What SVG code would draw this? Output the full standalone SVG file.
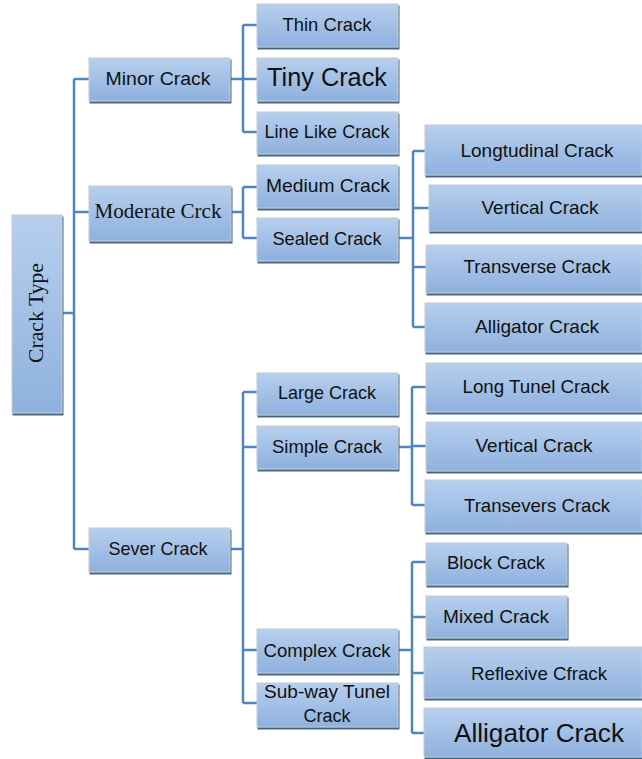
<svg xmlns="http://www.w3.org/2000/svg" width="642" height="759" viewBox="0 0 642 759">
<defs>
<linearGradient id="g" x1="0" y1="0" x2="0" y2="1">
<stop offset="0" stop-color="#b7cfed"/>
<stop offset="1" stop-color="#8eb1de"/>
</linearGradient>
<filter id="sh" x="-5%" y="-5%" width="112%" height="120%">
<feFlood flood-color="#4a6584" result="c"/>
<feComposite in="c" in2="SourceAlpha" operator="in" result="s"/>
<feOffset in="s" dx="1" dy="2" result="o"/>
<feMerge><feMergeNode in="o"/><feMergeNode in="SourceGraphic"/></feMerge>
</filter>
<style>
rect{fill:url(#g);stroke:#c3ccd6;stroke-width:1;filter:url(#sh)}
text{font-family:"Liberation Sans",Arial,sans-serif;font-size:19px;fill:#111;text-anchor:middle}
.serif{font-family:"Liberation Serif","Times New Roman",serif;font-size:21px}
.big{font-size:25px}
.huge{font-size:26px}
#connectors path{fill:none;stroke:#4f86c0;stroke-width:2.5}
</style>
</defs>
<rect x="0" y="0" width="642" height="759" style="fill:#fff;stroke:none;filter:none"/>
<g id="connectors">
<path d="M62,313H74M74,79V549M74,79H89M74,212H89M74,549H89"/>
<path d="M230,79H243M243,25V132M243,25H257M243,79H257M243,132H257"/>
<path d="M231,212H243M243,187V238M243,187H257M243,238H257"/>
<path d="M398,238H413M413,151V327M413,151H425M413,208H429M413,267H426M413,327H425"/>
<path d="M230,549H243M243,392V703M243,392H257M243,447H257M243,650H257M243,703H257"/>
<path d="M398,447H412M412,387V505M412,387H426M412,446H426M412,505H425"/>
<path d="M398,650H412M412,562V733M412,562H426M412,617H426M412,673H424M412,733H424"/>
</g>
<g id="root"><rect x="12" y="215" width="50" height="198"/><text class="serif" transform="translate(43,313) rotate(-90)" textLength="100" lengthAdjust="spacingAndGlyphs">Crack Type</text></g>
<g id="minor"><rect x="89" y="58" width="141" height="43"/><text x="158" y="85" textLength="105" lengthAdjust="spacingAndGlyphs">Minor Crack</text></g>
<g id="moderate"><rect x="89" y="186" width="142" height="55"/><text class="serif" x="158" y="218" textLength="127" lengthAdjust="spacingAndGlyphs">Moderate Crck</text></g>
<g id="sever"><rect x="89" y="528" width="141" height="44"/><text x="158" y="555" textLength="99" lengthAdjust="spacingAndGlyphs">Sever Crack</text></g>
<g id="thin"><rect x="257" y="4" width="141" height="43"/><text x="327" y="31" textLength="89" lengthAdjust="spacingAndGlyphs">Thin Crack</text></g>
<g id="tiny"><rect x="257" y="58" width="141" height="43"/><text class="big" x="327" y="86" textLength="120" lengthAdjust="spacingAndGlyphs">Tiny Crack</text></g>
<g id="linelike"><rect x="257" y="112" width="141" height="42"/><text x="327" y="138" textLength="125" lengthAdjust="spacingAndGlyphs">Line Like Crack</text></g>
<g id="medium"><rect x="257" y="165" width="141" height="43"/><text x="328" y="192" textLength="124" lengthAdjust="spacingAndGlyphs">Medium Crack</text></g>
<g id="sealed"><rect x="257" y="218" width="141" height="43"/><text x="327" y="245" textLength="109" lengthAdjust="spacingAndGlyphs">Sealed Crack</text></g>
<g id="longtudinal"><rect x="425" y="125" width="217" height="50"/><text x="537" y="157" textLength="153" lengthAdjust="spacingAndGlyphs">Longtudinal Crack</text></g>
<g id="vertical1"><rect x="429" y="185" width="213" height="46"/><text x="540" y="214" textLength="117" lengthAdjust="spacingAndGlyphs">Vertical Crack</text></g>
<g id="transverse"><rect x="426" y="245" width="216" height="48"/><text x="537" y="273" textLength="147" lengthAdjust="spacingAndGlyphs">Transverse Crack</text></g>
<g id="alligator1"><rect x="425" y="303" width="217" height="49"/><text x="537" y="333" textLength="124" lengthAdjust="spacingAndGlyphs">Alligator Crack</text></g>
<g id="large"><rect x="257" y="373" width="141" height="42"/><text x="327" y="399" textLength="98" lengthAdjust="spacingAndGlyphs">Large Crack</text></g>
<g id="simple"><rect x="257" y="426" width="141" height="43"/><text x="327" y="453" textLength="110" lengthAdjust="spacingAndGlyphs">Simple Crack</text></g>
<g id="complex"><rect x="257" y="629" width="141" height="44"/><text x="327" y="657" textLength="127" lengthAdjust="spacingAndGlyphs">Complex Crack</text></g>
<g id="subway"><rect x="257" y="683" width="141" height="44"/><text x="327" y="698" textLength="126" lengthAdjust="spacingAndGlyphs">Sub-way Tunel</text><text x="327" y="722" textLength="47" lengthAdjust="spacingAndGlyphs">Crack</text></g>
<g id="longtunel"><rect x="426" y="363" width="216" height="49"/><text x="536" y="393" textLength="147" lengthAdjust="spacingAndGlyphs">Long Tunel Crack</text></g>
<g id="vertical2"><rect x="426" y="422" width="216" height="49"/><text x="534" y="452" textLength="117" lengthAdjust="spacingAndGlyphs">Vertical Crack</text></g>
<g id="transevers"><rect x="425" y="480" width="217" height="52"/><text x="537" y="512" textLength="146" lengthAdjust="spacingAndGlyphs">Transevers Crack</text></g>
<g id="block"><rect x="426" y="543" width="141" height="42"/><text x="496" y="569" textLength="98" lengthAdjust="spacingAndGlyphs">Block Crack</text></g>
<g id="mixed"><rect x="426" y="596" width="141" height="42"/><text x="496" y="623" textLength="106" lengthAdjust="spacingAndGlyphs">Mixed Crack</text></g>
<g id="reflexive"><rect x="424" y="647" width="218" height="51"/><text x="539" y="680" textLength="136" lengthAdjust="spacingAndGlyphs">Reflexive Cfrack</text></g>
<g id="alligator2"><rect x="424" y="708" width="218" height="49"/><text class="huge" x="539" y="742" textLength="170" lengthAdjust="spacingAndGlyphs">Alligator Crack</text></g>
</svg>
